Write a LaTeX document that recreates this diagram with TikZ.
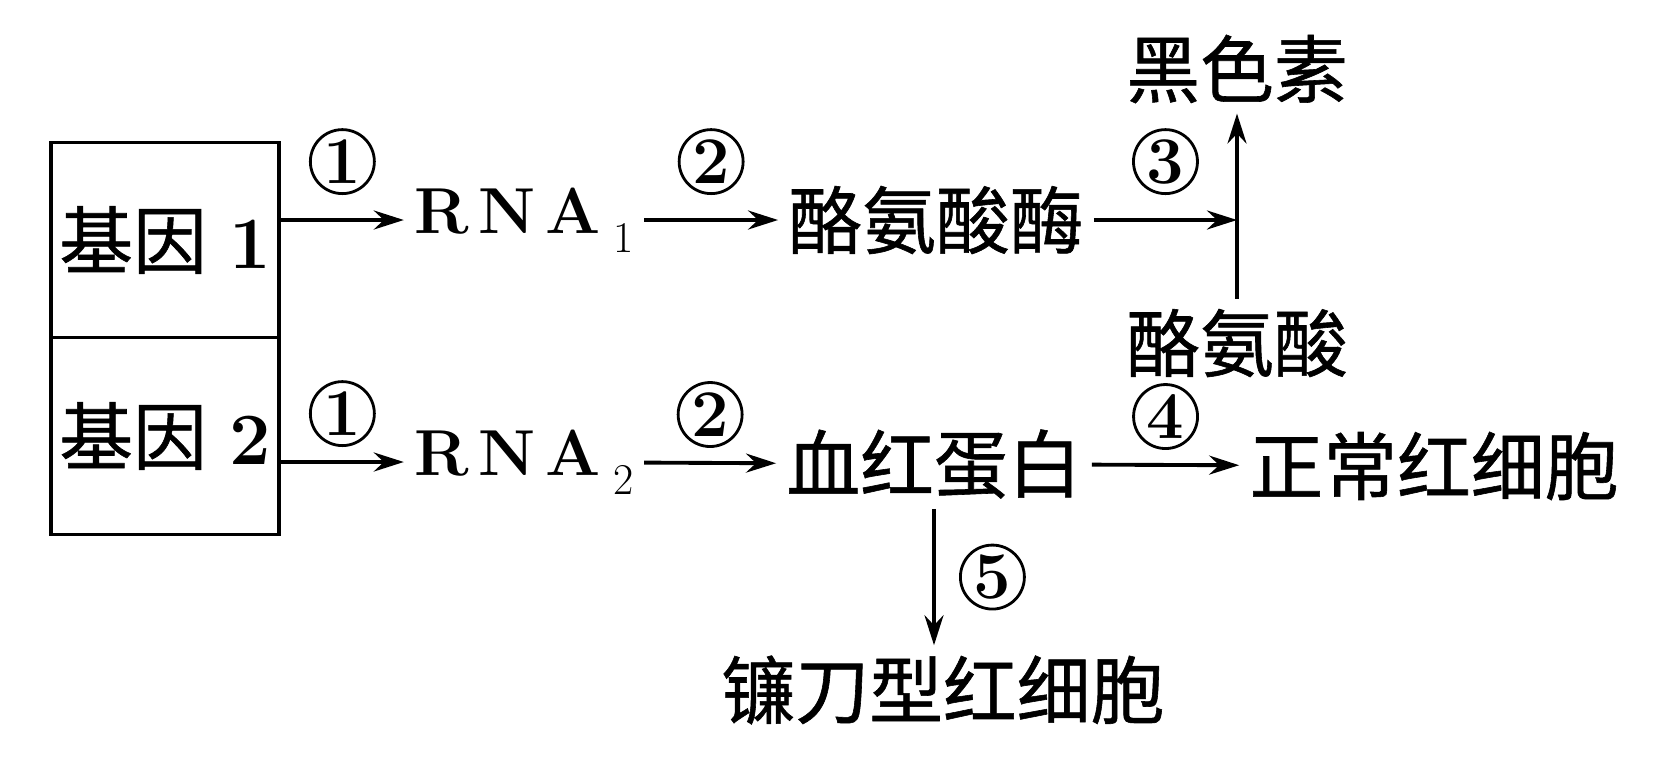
\documentclass[tikz,border=0pt]{standalone}
\usepackage{fontspec}
\newfontfamily\cjk[FakeBold=0.8]{Noto Sans CJK SC}
\usetikzlibrary{arrows.meta}

\newcommand{\rnasub}[1]{\hspace{0.2em}\raisebox{-0.3em}{\fontsize{25}{25}\selectfont #1}}

\tikzset{
    word/.style={font=\cjk\fontsize{42}{46}\selectfont, inner sep=0.2cm},
    rna/.style={font=\fontsize{37}{40}\selectfont, inner sep=0.2cm},
    genebox/.style={draw, line width=2.2pt, minimum width=4.56cm,
        font=\fontsize{42}{46}\selectfont},
    flow/.style={-{Stealth[length=0.6cm, width=0.38cm, inset=0.2cm]}, line width=2.2pt},
    stepnum/.style={circle, draw, line width=1.6pt, minimum size=1.28cm,
        inner sep=0pt, font=\fontsize{38}{38}\selectfont\bfseries}
}

\begin{document}
\begin{tikzpicture}[x=0.02cm, y=-0.02cm]

    \useasboundingbox (0, 0) rectangle (1653, 762);

    % Gene box
    \node[genebox, minimum height=3.9cm] (gene1) at (165, 240) {{\cjk 基因}~\textbf{1}};
    \node[genebox, minimum height=3.94cm] (gene2) at (165, 436) {{\cjk 基因}~\textbf{2}};

    % Upper row
    \node[rna] (rna1) at (524, 220) {\textbf{R\hspace{0.15em}N\hspace{0.15em}A}\rnasub{1}};
    \node[word] (enzyme) at (936, 220) {酪氨酸酶};
    \node[word] (mel) at (1237, 69) {黑色素};
    \node[word] (tyr) at (1237, 343) {酪氨酸};

    % Lower row
    \node[rna] (rna2) at (524, 462) {\textbf{R\hspace{0.15em}N\hspace{0.15em}A}\rnasub{2}};
    \node[word] (hb) at (934, 464) {血红蛋白};
    \node[word] (rbc) at (1434, 466) {正常红细胞};
    \node[word] (sickle) at (943, 690) {镰刀型红细胞};

    % Upper arrows
    \draw[flow] (gene1.east |- rna1) -- node[stepnum, above=0.5cm] (s1a) {1} (rna1);
    \draw[flow] (rna1) -- node[stepnum, above=0.5cm] (s2a) {2} (enzyme);
    \draw[flow] (enzyme) -- node[stepnum, above=0.5cm] (s3) {3} (enzyme -| mel);
    \draw[flow] (tyr) -- (mel);

    % Lower arrows
    \draw[flow] (gene2.east |- rna2) -- node[stepnum, above=0.3cm] (s1b) {1} (rna2);
    \draw[flow] (rna2) -- node[stepnum, above=0.3cm] (s2b) {2} (hb);
    \draw[flow] (hb) -- node[stepnum, above=0.3cm] (s4) {4} (rbc);
    \draw[flow] (hb) -- node[stepnum, right=0.5cm] (s5) {5} (hb |- sickle.north);

\end{tikzpicture}
\end{document}
